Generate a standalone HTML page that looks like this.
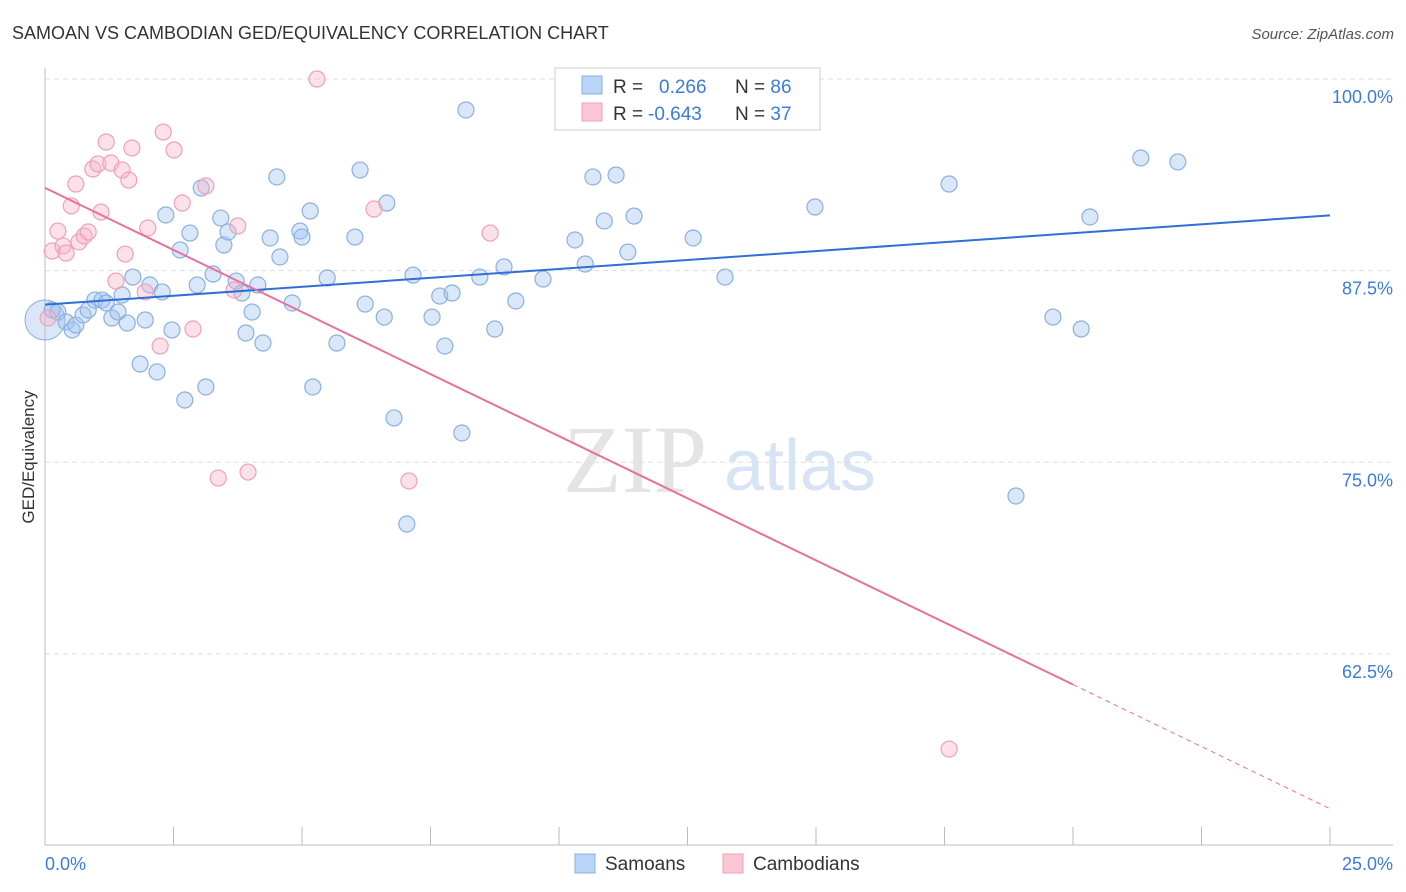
<!DOCTYPE html>
<html><head><meta charset="utf-8"><style>
body{margin:0;background:#fff;font-family:"Liberation Sans",sans-serif;}
svg{display:block}
</style></head><body>
<svg id="c" width="1406" height="892">
<text x="12" y="39" font-size="18" fill="#333">SAMOAN VS CAMBODIAN GED/EQUIVALENCY CORRELATION CHART</text>
<text x="1394" y="39" font-size="15" fill="#555" font-style="italic" text-anchor="end">Source: ZipAtlas.com</text>
<text x="34" y="457" font-size="17" fill="#333" transform="rotate(-90 34 457)" text-anchor="middle">GED/Equivalency</text>
<g id="wm"><text x="635" y="492" font-size="96" fill="#e4e4e4" font-family="Liberation Serif,serif" text-anchor="middle">ZIP</text><text x="800" y="490" font-size="72" fill="#d6e4f4" text-anchor="middle">atlas</text></g>
<g id="grid"></g><g id="axes"></g><g id="pts"></g><g id="lines"></g>
<g>
<rect x="555" y="68" width="265" height="62" fill="#fff" stroke="#ccc"/>
<rect x="582" y="76" width="20" height="18" fill="#b8d4f6" stroke="#8ab0e0"/>
<rect x="582" y="103" width="20" height="18" fill="#f9c6d4" stroke="#f0a0b8"/>
<text x="613" y="93" font-size="19" fill="#333">R = <tspan x="659" fill="#3d7bd8">0.266</tspan><tspan x="735" fill="#333">N = </tspan><tspan fill="#3d7bd8">86</tspan></text>
<text x="613" y="120" font-size="19" fill="#333">R = <tspan x="648" fill="#3d7bd8">-0.643</tspan><tspan x="735" fill="#333">N = </tspan><tspan fill="#3d7bd8">37</tspan></text>
</g>
<g>
<rect x="575" y="854" width="20" height="19" fill="#b8d4f6" stroke="#8ab0e0"/>
<text x="605" y="870" font-size="19" fill="#333">Samoans</text>
<rect x="723" y="854" width="20" height="19" fill="#f9c6d4" stroke="#f0a0b8"/>
<text x="753" y="870" font-size="19" fill="#333">Cambodians</text>
</g>
</svg>
<script>
const blueX=[0.14,0.25,0.41,0.53,0.60,0.74,0.84,0.97,1.11,1.19,1.30,1.42,1.50,1.60,1.71,1.85,1.95,2.04,2.18,2.28,2.35,2.47,2.63,2.72,2.82,2.96,3.04,3.13,3.27,3.42,3.48,3.56,3.72,3.83,3.91,4.03,4.14,4.24,4.38,4.51,4.57,4.81,4.96,5.00,5.16,5.21,5.49,5.68,6.03,6.13,6.23,6.60,6.65,6.79,7.04,7.16,7.53,7.68,7.78,7.92,8.11,8.19,8.46,8.75,8.93,9.16,9.69,10.31,10.51,10.66,10.88,11.11,11.34,11.46,12.61,13.23,14.98,17.59,18.89,19.61,20.16,20.33,21.32,22.04];
const blueY=[84.93,84.80,84.15,83.63,83.95,84.61,84.93,85.58,85.58,85.39,84.41,84.80,85.91,84.08,87.08,81.41,84.28,86.56,80.89,86.11,91.13,83.63,88.85,79.06,89.95,86.56,92.89,79.91,87.28,90.93,89.17,90.02,86.82,86.04,83.43,84.80,86.56,82.78,89.63,93.61,88.39,85.39,90.08,89.69,91.39,79.91,87.02,82.78,89.69,94.06,85.32,84.47,91.91,77.89,70.97,87.21,84.47,85.84,82.58,86.04,76.91,97.98,87.08,83.69,87.74,85.52,86.95,89.50,87.93,93.61,90.74,93.74,88.71,91.06,89.63,87.08,91.65,93.15,72.80,84.47,83.69,91.00,94.85,94.59];
const pinkX=[0.06,0.14,0.25,0.35,0.41,0.51,0.60,0.66,0.76,0.84,0.93,1.03,1.09,1.19,1.28,1.38,1.50,1.56,1.63,1.69,1.95,2.00,2.24,2.30,2.51,2.67,2.88,3.13,3.37,3.68,3.75,3.95,5.29,6.40,7.08,8.66,17.59];
const pinkY=[84.41,88.78,90.08,89.11,88.65,91.72,93.15,89.37,89.76,90.02,94.13,94.46,91.32,95.89,94.52,86.82,94.06,88.58,93.41,95.50,86.11,90.28,82.58,96.54,95.37,91.91,83.69,93.02,73.97,86.24,90.41,74.36,100.0,91.52,73.78,89.95,56.29];
const yTicks=[100,87.5,75,62.5];
const yTickLabels=["100.0%","87.5%","75.0%","62.5%"];
const blueTrend=[85.28,0.233];
const pinkTrend=[92.9,-1.62];
const NS="http://www.w3.org/2000/svg";
const X=v=>45+v*51.4, Y=v=>79+(100-v)*15.33;
function mk(p,t,a){const e=document.createElementNS(NS,t);for(const k in a)e.setAttribute(k,a[k]);p.appendChild(e);return e;}
const grid=document.getElementById('grid'),axes=document.getElementById('axes'),pts=document.getElementById('pts'),lines=document.getElementById('lines');
yTicks.forEach((t,i)=>{
 const l=mk(grid,'line',{x1:45,x2:1393,y1:Y(t),y2:Y(t),stroke:'#ddd','stroke-dasharray':'5,4'});
 
 
 const tx=mk(grid,'text',{x:1393,y:Y(t)+24,'font-size':18,fill:'#3d7bd8','text-anchor':'end'});
 tx.textContent=yTickLabels[i];
 
 
});
mk(axes,'line',{x1:45,x2:45,y1:68,y2:845,stroke:'#bbb'});
mk(axes,'line',{x1:45,x2:1393,y1:845,y2:845,stroke:'#bbb'});
for(let i=0;i<=10;i++){const t=mk(axes,'line',{x1:X(i*2.5),x2:X(i*2.5),y1:827,y2:845,stroke:'#bbb'});
 
 }
const xl=mk(axes,'text',{x:45,y:870,'font-size':18,fill:'#3d7bd8'});xl.textContent='0.0%';


const xr=mk(axes,'text',{x:1393,y:870,'font-size':18,fill:'#3d7bd8','text-anchor':'end'});xr.textContent='25.0%';


const big=mk(pts,'circle',{cx:X(0),cy:Y(84.28),r:20,fill:'rgba(160,196,240,0.4)',stroke:'#8ab0e0'});


blueX.forEach((x,i)=>{const c=mk(pts,'circle',{cx:X(x),cy:Y(blueY[i]),r:8,fill:'rgba(160,196,240,0.4)',stroke:'#8ab0e0','stroke-width':1.2});
 
 });
pinkX.forEach((x,i)=>{const c=mk(pts,'circle',{cx:X(x),cy:Y(pinkY[i]),r:8,fill:'rgba(248,180,200,0.4)',stroke:'#f0a0b8','stroke-width':1.2});
 
 });
const bl=mk(lines,'line',{x1:X(0),y1:Y(blueTrend[0]),x2:X(25),y2:Y(blueTrend[0]+25*blueTrend[1]),stroke:'#2f6fd6','stroke-width':2});


const pl=mk(lines,'line',{x1:X(0),y1:Y(pinkTrend[0]),x2:X(20),y2:Y(pinkTrend[0]+20*pinkTrend[1]),stroke:'#e8709a','stroke-width':2});


const pd=mk(lines,'line',{x1:X(20),y1:Y(pinkTrend[0]+20*pinkTrend[1]),x2:X(25),y2:Y(pinkTrend[0]+25*pinkTrend[1]),stroke:'#e8709a','stroke-width':1,'stroke-dasharray':'5,4'});


</script>
</body></html>
